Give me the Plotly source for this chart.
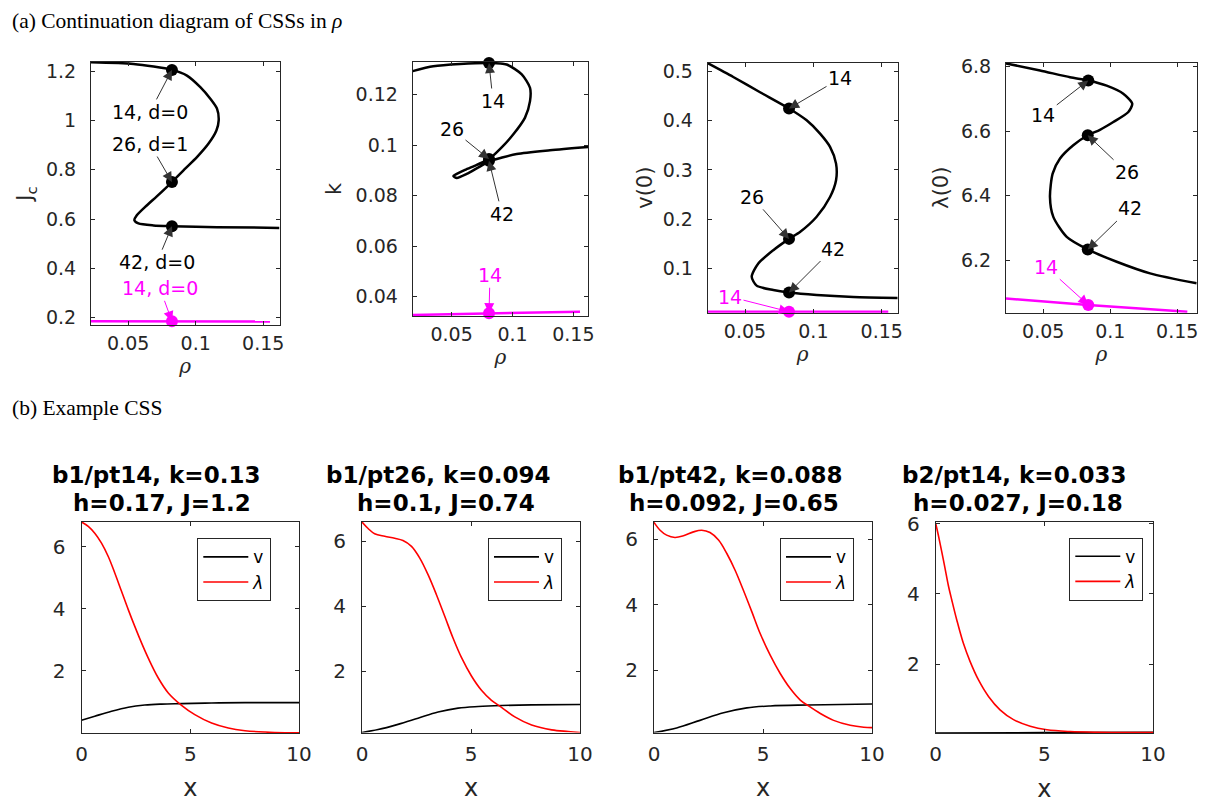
import plotly.graph_objects as go

# The page places the figure 8 px in from the top-left corner of the window.
OX, OY = 8, 8
W, H = 1212, 797

# ---------------- (a) continuation data ----------------
# branch b1 (black) -- J_c vs rho
rho_J = [0.0225, 0.054, 0.0824, 0.0935, 0.1034, 0.1108, 0.1158, 0.117, 0.1153, 0.1095, 0.1009,
         0.0922, 0.0824, 0.0712, 0.0626, 0.0564, 0.0546, 0.0576, 0.0687, 0.0824, 0.1157, 0.162]
J_b1 = [1.236, 1.229, 1.205, 1.182, 1.135, 1.088, 1.047, 1.0, 0.959, 0.906, 0.851,
        0.804, 0.75, 0.692, 0.649, 0.615, 0.595, 0.582, 0.574, 0.571, 0.567, 0.564]
# branch b1 -- k vs rho
rho_k = [0.018, 0.0349, 0.0569, 0.0807, 0.0952, 0.1076, 0.1144, 0.1144, 0.1103, 0.1007, 0.0897,
         0.0807, 0.0706, 0.061, 0.0542, 0.0514, 0.0542, 0.0624, 0.072, 0.0807, 0.1035, 0.1308, 0.1623]
k_b1 = [0.1293, 0.1312, 0.1321, 0.1325, 0.1319, 0.128, 0.1227, 0.1174, 0.1109, 0.1043, 0.0984,
        0.0945, 0.0922, 0.0902, 0.0886, 0.0878, 0.087, 0.0886, 0.0912, 0.0935, 0.0965, 0.098, 0.0993]
# branch b1 -- v(0) vs rho
rho_v = [0.0227, 0.0414, 0.061, 0.0822, 0.0951, 0.1049, 0.1122, 0.1166, 0.1166, 0.1122, 0.1024,
         0.0902, 0.0822, 0.0707, 0.0597, 0.0549, 0.0585, 0.0707, 0.0822, 0.1024, 0.1292, 0.1617]
v0_b1 = [0.517, 0.489, 0.458, 0.425, 0.401, 0.374, 0.347, 0.313, 0.279, 0.245, 0.205,
         0.174, 0.16, 0.137, 0.11, 0.083, 0.065, 0.056, 0.051, 0.046, 0.042, 0.04]
# branch b1 -- lambda(0) vs rho
rho_l = [0.0222, 0.0476, 0.07, 0.0836, 0.0973, 0.1097, 0.1164, 0.1135, 0.1023, 0.0923, 0.0832,
         0.0724, 0.0625, 0.057, 0.055, 0.0575, 0.0675, 0.0832, 0.1048, 0.1297, 0.1645]
l0_b1 = [6.81, 6.788, 6.767, 6.757, 6.741, 6.716, 6.685, 6.659, 6.628, 6.604, 6.587,
         6.556, 6.515, 6.468, 6.396, 6.334, 6.272, 6.233, 6.195, 6.159, 6.128]

# branch b2 (magenta)
rho_b2_J = [0.0225, 0.0824, 0.155]
J_b2 = [0.185, 0.185, 0.184]
rho_b2_k = [0.018, 0.0807, 0.1555]
k_b2 = [0.0328, 0.0335, 0.0341]
rho_b2_v = [0.0227, 0.0822, 0.1548]
v0_b2 = [0.012, 0.012, 0.012]
rho_b2_l = [0.0222, 0.0836, 0.1575]
l0_b2 = [6.081, 6.061, 6.04]

# labelled points (pt14, pt26, pt42 on b1; pt14 on b2)
pt_rho_J = [0.0824, 0.0824, 0.0824]; pt_J = [1.205, 0.75, 0.571]; pt2_J = (0.0824, 0.185)
pt_rho_k = [0.0807, 0.0807, 0.0807]; pt_k = [0.1325, 0.0945, 0.0938]; pt2_k = (0.0807, 0.0335)
pt_rho_v = [0.0822, 0.0822, 0.0822]; pt_v = [0.425, 0.16, 0.051]; pt2_v = (0.0822, 0.012)
pt_rho_l = [0.0836, 0.0832, 0.0832]; pt_l = [6.757, 6.587, 6.233]; pt2_l = (0.0836, 6.061)

# ---------------- (b) example profiles ----------------
x_l1 = [0, 0.31, 0.61, 0.92, 1.23, 1.53, 1.84, 2.15, 2.45, 2.76, 3.07, 3.53, 3.99, 4.6, 5.21, 5.98, 6.75, 7.52, 8.44, 9.36, 10]
lam_1 = [6.79, 6.65, 6.43, 6.11, 5.68, 5.15, 4.56, 3.97, 3.43, 2.9, 2.41, 1.77, 1.29, 0.89, 0.59, 0.32, 0.16, 0.075, 0.03, 0.01, 0.01]
x_v1 = [0, 0.61, 1.38, 2.15, 2.91, 3.68, 4.6, 5.98, 7.52, 10]
v_1 = [0.41, 0.54, 0.7, 0.83, 0.9, 0.93, 0.945, 0.965, 0.976, 0.976]

x_l2 = [0, 0.28, 0.58, 1.04, 1.5, 1.88, 2.27, 2.65, 3.03, 3.41, 3.8, 4.18, 4.56, 5.02, 5.48, 5.94, 6.37, 7.01, 7.78, 8.7, 9.46, 10]
lam_2 = [6.59, 6.39, 6.23, 6.15, 6.09, 6.02, 5.84, 5.48, 4.97, 4.36, 3.68, 3.01, 2.42, 1.85, 1.41, 1.1, 0.9, 0.59, 0.34, 0.19, 0.14, 0.11]
x_v2 = [0, 0.74, 1.65, 2.57, 3.49, 4.41, 5.33, 6.4, 7.78, 10]
v_2 = [0.11, 0.2, 0.36, 0.55, 0.74, 0.86, 0.91, 0.94, 0.96, 0.97]

x_l3 = [0, 0.28, 0.58, 0.96, 1.35, 1.81, 2.19, 2.57, 2.96, 3.34, 3.72, 4.1, 4.49, 4.87, 5.33, 5.79, 6.25, 6.71, 7.09, 7.63, 8.24, 9.0, 9.62, 10]
lam_3 = [6.51, 6.27, 6.12, 6.05, 6.1, 6.22, 6.27, 6.2, 5.97, 5.56, 5.05, 4.44, 3.78, 3.12, 2.46, 1.9, 1.44, 1.09, 0.91, 0.68, 0.47, 0.32, 0.26, 0.25]
x_v3 = [0, 1.04, 2.11, 3.19, 4.26, 5.33, 7.09, 10]
v_3 = [0.1, 0.24, 0.47, 0.7, 0.85, 0.91, 0.94, 0.97]

x_l4 = [0, 0.12, 0.28, 0.43, 0.58, 0.74, 0.97, 1.27, 1.58, 1.97, 2.43, 2.96, 3.58, 4.35, 5.12, 6.19, 7.42, 10]
lam_4 = [6.01, 5.68, 5.2, 4.73, 4.25, 3.83, 3.26, 2.6, 2.08, 1.55, 1.08, 0.7, 0.42, 0.23, 0.13, 0.08, 0.06, 0.05]
x_v4 = [0, 5, 10]
v_4 = [0.04, 0.05, 0.055]

titles_b = [("b1/pt14, k=0.13", "h=0.17, J=1.2"),
            ("b1/pt26, k=0.094", "h=0.1, J=0.74"),
            ("b1/pt42, k=0.088", "h=0.092, J=0.65"),
            ("b2/pt14, k=0.033", "h=0.027, J=0.18")]

# ---------------- layout geometry (window pixels) ----------------
BOX = {  # left, right, top, bottom
    1: (91, 279.5, 62, 325),
    2: (412.7, 588.3, 62, 316),
    3: (707.7, 897.7, 62.7, 312.7),
    4: (1006, 1196.7, 62.7, 312.7),
    5: (81.5, 299, 521.7, 733),
    6: (362, 580, 521.7, 732.5),
    7: (654, 872, 521.7, 732.5),
    8: (935.7, 1153, 521.7, 733.3),
}
XR = {1: [0.0225, 0.162], 2: [0.018, 0.1623], 3: [0.0227, 0.1617], 4: [0.0222, 0.1645],
      5: [0, 10], 6: [0, 10], 7: [0, 10], 8: [0, 10]}
YR = {1: [0.17, 1.237], 2: [0.0324, 0.1329], 3: [0.01, 0.518], 4: [6.037, 6.812],
      5: [0, 6.8], 6: [0.11, 6.6], 7: [0.1, 6.53], 8: [0.03, 6.06]}


def fx(p):
    return (p - OX) / W


def fy(p):
    return 1 - (p - OY) / H


MAG = '#ff00ff'
AXC = '#262626'
FONT = 'DejaVu Sans'

fig = go.Figure()


def ax(i):
    return ('x' if i == 1 else f'x{i}'), ('y' if i == 1 else f'y{i}')


top_data = [
    (rho_J, J_b1, rho_b2_J, J_b2, pt_rho_J, pt_J, pt2_J),
    (rho_k, k_b1, rho_b2_k, k_b2, pt_rho_k, pt_k, pt2_k),
    (rho_v, v0_b1, rho_b2_v, v0_b2, pt_rho_v, pt_v, pt2_v),
    (rho_l, l0_b1, rho_b2_l, l0_b2, pt_rho_l, pt_l, pt2_l),
]
for i, (rx, ry, mx, my, px, py, p2) in enumerate(top_data, start=1):
    xa, ya = ax(i)
    fig.add_trace(go.Scatter(x=mx, y=my, mode='lines', line=dict(color=MAG, width=2.5),
                             xaxis=xa, yaxis=ya, showlegend=False, hoverinfo='skip'))
    fig.add_trace(go.Scatter(x=rx, y=ry, mode='lines', line=dict(color='black', width=2.5, shape='spline', smoothing=0.7),
                             xaxis=xa, yaxis=ya, showlegend=False))
    fig.add_trace(go.Scatter(x=px, y=py, mode='markers', marker=dict(color='black', size=12), cliponaxis=False,
                             xaxis=xa, yaxis=ya, showlegend=False))
    fig.add_trace(go.Scatter(x=[p2[0]], y=[p2[1]], mode='markers', marker=dict(color=MAG, size=12), cliponaxis=False,
                             xaxis=xa, yaxis=ya, showlegend=False))

bottom_data = [(x_v1, v_1, x_l1, lam_1), (x_v2, v_2, x_l2, lam_2),
               (x_v3, v_3, x_l3, lam_3), (x_v4, v_4, x_l4, lam_4)]
for j, (xv, vv, xl, ll) in enumerate(bottom_data):
    i = 5 + j
    xa, ya = ax(i)
    lg = 'legend' if j == 0 else f'legend{j + 1}'
    fig.add_trace(go.Scatter(x=xv, y=vv, mode='lines', name='v', line=dict(color='black', width=1.6, shape='spline'),
                             xaxis=xa, yaxis=ya, legend=lg))
    fig.add_trace(go.Scatter(x=xl, y=ll, mode='lines', name='<i>λ</i>', line=dict(color='red', width=1.6, shape='spline'),
                             xaxis=xa, yaxis=ya, legend=lg))

layout = dict(width=W, height=H, margin=dict(l=0, r=0, t=0, b=0, autoexpand=False),
              plot_bgcolor='white', paper_bgcolor='white', font=dict(family=FONT, color=AXC))

ytitles = {1: 'J<sub>c</sub>', 2: 'k', 3: 'v(0)', 4: 'λ(0)'}
ystand = {1: 7, 2: 8, 3: 4, 4: 6}
TOPTICKS = {
    1: [0.2, 0.4, 0.6, 0.8, 1.0, 1.2],
    2: [0.04, 0.06, 0.08, 0.1, 0.12],
    3: [0.1, 0.2, 0.3, 0.4, 0.5],
    4: [6.2, 6.4, 6.6, 6.8],
}
for i in range(1, 9):
    l, r, t, b = BOX[i]
    xk = 'xaxis' if i == 1 else f'xaxis{i}'
    yk = 'yaxis' if i == 1 else f'yaxis{i}'
    xa, ya = ax(i)
    common = dict(showline=True, linecolor=AXC, linewidth=1, mirror='ticks', ticks='inside', ticklen=4,
                  tickcolor=AXC, showgrid=False, zeroline=False, automargin=False)
    if i <= 4:
        layout[xk] = dict(domain=[fx(l), fx(r)], range=XR[i], anchor=ya, tickvals=[0.05, 0.1, 0.15],
                          ticktext=['0.05', '0.1', '0.15'], tickfont=dict(size=19), ticklabelstandoff=1,
                          title=dict(text='<i>ρ</i>', font=dict(size=20, family='DejaVu Serif'), standoff=0), **common)
        layout[yk] = dict(domain=[fy(b), fy(t)], range=YR[i], anchor=xa, tickvals=TOPTICKS[i],
                          ticktext=[f'{v:g}' for v in TOPTICKS[i]], tickfont=dict(size=19), ticklabelstandoff=10,
                          title=dict(text=ytitles[i], font=dict(size=21), standoff=ystand[i]), **common)
    else:
        layout[xk] = dict(domain=[fx(l), fx(r)], range=XR[i], anchor=ya, tickvals=[0, 5, 10],
                          tickfont=dict(size=20), ticklabelstandoff=3,
                          title=dict(text='x', font=dict(size=24), standoff=14), **common)
        layout[yk] = dict(domain=[fy(b), fy(t)], range=YR[i], anchor=xa, tickvals=[2, 4, 6],
                          tickfont=dict(size=20), ticklabelstandoff=11, **common)

LEG = {5: (197.3, 538.3), 6: (488, 538.3), 7: (780, 538.3), 8: (1069.3, 537.7)}
for j, i in enumerate(range(5, 9)):
    lk = 'legend' if j == 0 else f'legend{j + 1}'
    lx, ly = LEG[i]
    layout[lk] = dict(x=fx(lx), y=fy(ly), xanchor='left', yanchor='top', bordercolor=AXC, borderwidth=1,
                      bgcolor='white', font=dict(size=17, color='black'), itemwidth=45, tracegroupgap=0)

fig.update_layout(**layout)

# ---------------- annotations ----------------
ann = []
ann.append(dict(text='(a) Continuation diagram of CSSs in <i>ρ</i>', x=fx(10), y=fy(21), xref='paper', yref='paper',
                xanchor='left', yanchor='middle', showarrow=False, font=dict(family='Liberation Serif', size=21.5, color='black')))
ann.append(dict(text='(b) Example CSS', x=fx(10), y=fy(408), xref='paper', yref='paper',
                xanchor='left', yanchor='middle', showarrow=False, font=dict(family='Liberation Serif', size=21.5, color='black')))

# arrow labels: (panel, text, head_x, head_y, ax, ay, color)
arrow_labels = [
    (1, '14, d=0', pt_rho_J[0], pt_J[0], -22, 42, 'black'),
    (1, '26, d=1', pt_rho_J[1], pt_J[1], -22, -38, 'black'),
    (1, '42, d=0', pt_rho_J[2], pt_J[2], -15, 36, 'black'),
    (1, '14, d=0', pt2_J[0], pt2_J[1], -12, -33, MAG),
    (2, '14', pt_rho_k[0], pt_k[0], 4, 38, 'black'),
    (2, '26', pt_rho_k[1], pt_k[1], -37, -30, 'black'),
    (2, '42', pt_rho_k[2], pt_k[2], 13, 53, 'black'),
    (2, '14', pt2_k[0], pt2_k[1], 1, -38, MAG),
    (3, '14', pt_rho_v[0], pt_v[0], 51, -30, 'black'),
    (3, '26', pt_rho_v[1], pt_v[1], -37, -42, 'black'),
    (3, '42', pt_rho_v[2], pt_v[2], 44, -44, 'black'),
    (3, '14', pt2_v[0], pt2_v[1], -59, -15, MAG),
    (4, '14', pt_rho_l[0], pt_l[0], -45, 35, 'black'),
    (4, '26', pt_rho_l[1], pt_l[1], 39, 37, 'black'),
    (4, '42', pt_rho_l[2], pt_l[2], 42, -41, 'black'),
    (4, '14', pt2_l[0], pt2_l[1], -42, -38, MAG),
]
for (i, txt, hx, hy, dx, dy, col) in arrow_labels:
    xa, ya = ax(i)
    ann.append(dict(text=txt, x=hx, y=hy, xref=xa, yref=ya, ax=dx, ay=dy, showarrow=True, arrowhead=2,
                    arrowsize=2, arrowwidth=1, arrowcolor='#333333' if col == 'black' else col,
                    font=dict(size=19, color=col)))

TITLE_POS = [((155.7, 475), (162, 503)), ((437.5, 475), (446, 503)),
             ((730, 475), (733.5, 503)), ((1014, 475), (1018, 503))]
for (l1, l2), (p1, p2) in zip(titles_b, TITLE_POS):
    for txt, (tx, ty) in ((l1, p1), (l2, p2)):
        ann.append(dict(text=f'<b>{txt}</b>', x=fx(tx), y=fy(ty), xref='paper', yref='paper',
                        xanchor='center', yanchor='middle', showarrow=False, font=dict(size=23, color='black')))

fig.update_layout(annotations=ann)
fig.write_html('out.html')
